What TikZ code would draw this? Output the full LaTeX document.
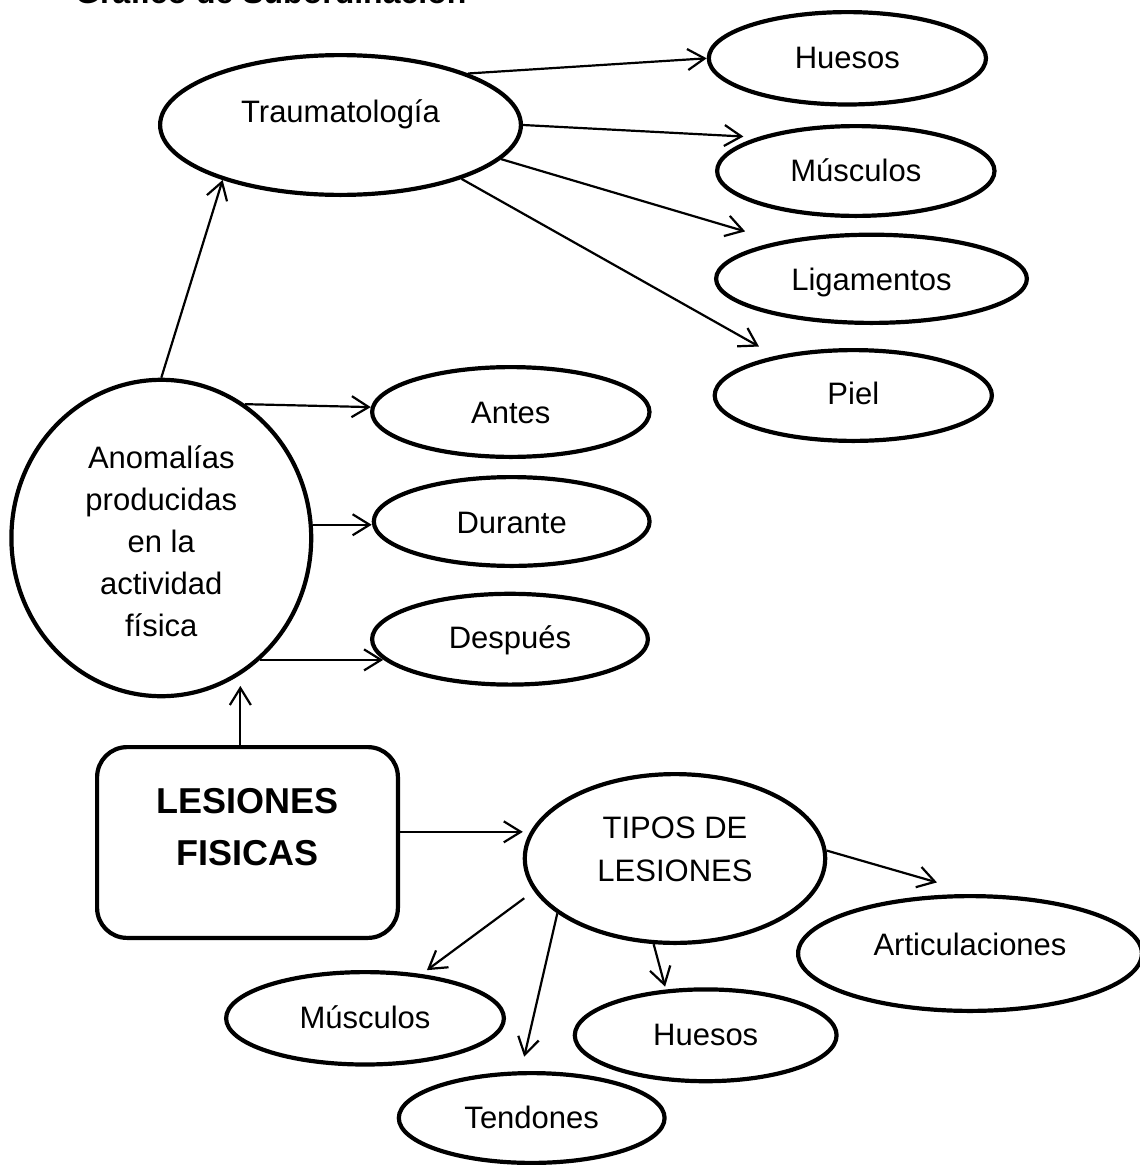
\documentclass[tikz,border=0pt]{standalone}
\usepackage{fontspec}
\setmainfont{Liberation Sans}
\usetikzlibrary{arrows.meta,shapes.geometric}

% #1 raise of the first baseline above the node centre, #2 font size,
% #3 line pitch, #4 the (centred) lines of text
\newcommand{\lbl}[4]{\raisebox{#1pt}[0pt][0pt]{\fontsize{#2}{#3}\selectfont
  \begin{tabular}[t]{@{}c@{}}#4\end{tabular}}}

\begin{document}
\begin{tikzpicture}[x=1pt,y=-1pt,
  oval/.style={ellipse,draw,line width=4.2pt,inner sep=0pt,outer sep=2.1pt},
  box/.style={rectangle,rounded corners=30pt,draw,line width=4.2pt,inner sep=0pt,outer sep=2.1pt},
  arr/.style={line width=2.2pt,-{Straight Barb[length=17pt,width=21pt]}},
]
\useasboundingbox (0,0) rectangle (1140,1165);

% heading (runs off the top edge)
\node[anchor=base west,inner sep=0pt,font=\bfseries\fontsize{32}{38}\selectfont]
  (title) at (75,3) {Gráfico de Subordinación};

% upper branch
\node[oval,minimum width=360.8pt,minimum height=139.8pt] (trau) at (340.5,125)
  {\lbl{3}{31}{42}{Traumatología}};
\node[oval,minimum width=277.2pt,minimum height=92.4pt] (hue1) at (847.4,58.3)
  {\lbl{-10}{31}{42}{Huesos}};
\node[oval,minimum width=277.4pt,minimum height=89.8pt] (mus1) at (855.8,171)
  {\lbl{-10.7}{31}{42}{Músculos}};
\node[oval,minimum width=310.8pt,minimum height=88.2pt] (lig) at (871.5,278.8)
  {\lbl{-11.2}{31}{42}{Ligamentos}};
\node[oval,minimum width=277.2pt,minimum height=90.8pt] (piel) at (853.3,395.5)
  {\lbl{-8.5}{31}{42}{Piel}};

% middle branch
\node[oval,minimum width=299.8pt,minimum height=316.4pt] (anom) at (161.3,538)
  {\lbl{70}{31}{42}{Anomalías\\producidas\\en la\\actividad\\física}};
\node[oval,minimum width=277.4pt,minimum height=89.8pt] (antes) at (510.8,412)
  {\lbl{-11.3}{31}{42}{Antes}};
\node[oval,minimum width=275.8pt,minimum height=88.8pt] (durante) at (511.7,521.5)
  {\lbl{-11.5}{31}{42}{Durante}};
\node[oval,minimum width=275.8pt,minimum height=90.8pt] (despues) at (510,639.2)
  {\lbl{-9.1}{31}{42}{Después}};

% root and lower branch
\node[box,minimum width=300.8pt,minimum height=190.8pt] (les) at (247.5,842.5)
  {\lbl{29.5}{36}{52}{\bfseries LESIONES\\\bfseries FISICAS}};
\node[oval,minimum width=300.4pt,minimum height=168.8pt] (tipos) at (675,858.5)
  {\lbl{20.5}{31}{43}{TIPOS DE\\LESIONES}};
\node[oval,minimum width=343.8pt,minimum height=114.8pt] (artic) at (970,953.5)
  {\lbl{-1.5}{31}{42}{Articulaciones}};
\node[oval,minimum width=261.8pt,minimum height=91.8pt] (hue2) at (705.7,1035.3)
  {\lbl{-9.7}{31}{42}{Huesos}};
\node[oval,minimum width=277.8pt,minimum height=92.4pt] (mus2) at (365,1018.3)
  {\lbl{-10}{31}{42}{Músculos}};
\node[oval,minimum width=265.8pt,minimum height=89.8pt] (tend) at (531.7,1118)
  {\lbl{-10.3}{31}{42}{Tendones}};

% connectors
\draw[arr] (anom.90) -- (trau.205.8);
\draw[arr] (trau.22.9) -- (hue1.180);
\draw[arr,shorten >=14.4pt] (trau.-0.4) -- (mus1.161.15);
\draw[arr,shorten >=35.3pt] (trau.-12.1) -- (lig.158.7);
\draw[arr,shorten >=19.1pt] (trau.-24.3) -- (piel.153.4);
\draw[arr] (anom.58.45) -- (antes.178.8);
\draw[arr] (anom.5.6) -- (anom.5.6 -| durante.west);
\draw[arr] (anom.-51.05) -- (anom.-51.05 -| despues.189.4);
\draw[arr,shorten >=11pt] (les.north -| anom.-60.45) -- (anom.-60.45);
\draw[arr,shorten >=9.5pt] (les.4.7) -- (les.4.7 -| tipos.168.8);
\draw[arr,shorten >=42pt] (tipos.3.95) -- (artic.83.5);
\draw[arr,shorten >=3pt] (tipos.-104.8) -- (hue2.131);
\draw[arr,shorten >=14.8pt] (tipos.205.7) -- (tend.103.9);
\draw[arr,shorten <=12pt,shorten >=6.6pt] (tipos.193.5) -- (mus2.38.06);
\end{tikzpicture}
\end{document}
